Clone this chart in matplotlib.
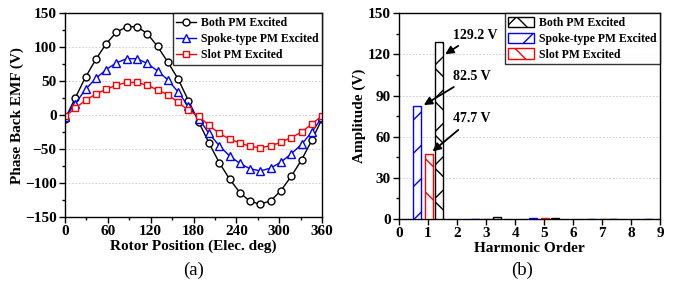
import matplotlib.pyplot as plt
import numpy as np

plt.rcParams['font.family'] = ['Liberation Serif', 'DejaVu Serif']
plt.rcParams['font.weight'] = 'bold'
plt.rcParams['hatch.linewidth'] = 1.0

# (a) back EMF waveforms, 26 samples over one electrical period
angle = np.linspace(0, 360, 26)
both = [-6, 25.5, 56, 82, 105, 122, 130, 130, 120, 101, 78, 53, 21.5,
        -10, -41, -70, -94, -114, -127, -131, -126, -111, -90, -66, -37, -5.5]
spoke = [-3, 17, 38, 54, 67, 77, 83, 83, 76, 65, 52, 34, 13,
         -5, -27, -45, -60, -71, -79, -82, -78, -69, -57, -43, -25, -3]
slot = [-2, 10, 22, 31, 38, 44, 48, 48, 44, 37, 30, 19, 7,
        -2, -15, -27, -35, -41, -46, -48, -45, -40, -33, -25, -13, -1]

# (b) harmonic amplitudes
order = np.array([1, 3, 5, 7, 9])
amp_both = [129.2, 1.5, 0.6, 0.1, 0.0]
amp_spoke = [82.5, 0.0, 1.0, 0.3, 0.0]
amp_slot = [47.7, 0.3, 0.5, 0.4, 0.3]

fig = plt.figure(figsize=(6.73, 2.86), dpi=100)
ax1 = fig.add_axes([0.0966, 0.241, 0.382, 0.713])
ax2 = fig.add_axes([0.593, 0.234, 0.388, 0.720])

# ---- panel (a)
ax1.plot(angle, both, 'o-', color='black', mfc='white', ms=5, lw=1, mew=1, label='Both PM Excited')
ax1.plot(angle, spoke, '^-', color='blue', mfc='white', ms=5.5, lw=1, mew=1, label='Spoke-type PM Excited')
ax1.plot(angle, slot, 's-', color='red', mfc='white', ms=4.5, lw=1, mew=1, label='Slot PM Excited')
ax1.set_xlim(0, 360)
ax1.set_ylim(-150, 150)
ax1.set_xticks(np.arange(0, 361, 60))
ax1.set_xticks(np.arange(0, 361, 30), minor=True)
ax1.set_yticks(np.arange(-150, 151, 50))
ax1.set_yticks(np.arange(-150, 151, 25), minor=True)
for v in [-100, -50, 0, 50, 100]:
    ax1.axhline(v, color='#c8c8c8', ls=(0, (2, 2)), lw=0.6, zorder=0)
ax1.set_xlabel('Rotor Position (Elec. deg)', fontsize=11, fontweight='bold', labelpad=1)
ax1.set_ylabel('Phase Back EMF (V)', fontsize=11, fontweight='bold', labelpad=1)
ax1.legend(loc='upper right', fontsize=8.5, frameon=True, fancybox=False, edgecolor='black',
           borderaxespad=0, handlelength=1.7, borderpad=0.3, labelspacing=0.35,
           handletextpad=0.4).get_frame().set_linewidth(1)

# ---- panel (b)
w = 0.28
ax2.bar(order + 0.375, amp_both, w, color='white', edgecolor='black', hatch='x', lw=1,
        label='Both PM Excited', zorder=3)
ax2.bar(order - 0.375, amp_spoke, w, color='white', edgecolor='blue', hatch='/', lw=1,
        label='Spoke-type PM Excited', zorder=3)
ax2.bar(order + 0.02, amp_slot, w, color='white', edgecolor='red', hatch='\\', lw=1,
        label='Slot PM Excited', zorder=3)
ax2.set_xlim(0, 9)
ax2.set_ylim(0, 150)
ax2.set_xticks(np.arange(0, 10, 1))
ax2.set_yticks(np.arange(0, 151, 30))
ax2.set_yticks(np.arange(0, 151, 15), minor=True)
for v in [30, 60, 90, 120]:
    ax2.axhline(v, color='#c8c8c8', ls=(0, (2, 2)), lw=0.6, zorder=0)
ax2.set_xlabel('Harmonic Order', fontsize=11, fontweight='bold', labelpad=1)
ax2.set_ylabel('Amplitude (V)', fontsize=11, fontweight='bold', labelpad=1)
ax2.legend(loc='upper right', fontsize=8.5, frameon=True, fancybox=False, edgecolor='black',
           borderaxespad=0, handlelength=2.2, handleheight=1.0, borderpad=0.3,
           labelspacing=0.3, handletextpad=0.4).get_frame().set_linewidth(1)

arrow = dict(arrowstyle='-|>', color='black', lw=1.3, mutation_scale=12)
ax2.annotate('129.2 V', xy=(1.51, 119), xytext=(1.85, 134), fontsize=10, fontweight='bold',
             arrowprops=arrow, va='center', ha='left', zorder=5)
ax2.annotate('82.5 V', xy=(0.77, 82), xytext=(1.85, 104), fontsize=10, fontweight='bold',
             arrowprops=arrow, va='center', ha='left', zorder=5)
ax2.annotate('47.7 V', xy=(1.08, 48), xytext=(1.85, 73), fontsize=10, fontweight='bold',
             arrowprops=arrow, va='center', ha='left', zorder=5)

for ax in (ax1, ax2):
    ax.tick_params(which='major', direction='out', length=4, width=1, labelsize=11, pad=2)
    ax.tick_params(which='minor', direction='out', length=2.5, width=1)
    for lab in ax.get_xticklabels() + ax.get_yticklabels():
        lab.set_fontweight('bold')
    for s in ax.spines.values():
        s.set_linewidth(1)

fig.text(0.287, 0.04, '(a)', fontsize=13.5, fontweight='normal', ha='center')
fig.text(0.776, 0.04, '(b)', fontsize=13.5, fontweight='normal', ha='center')

fig.savefig('out.png', dpi=100)
